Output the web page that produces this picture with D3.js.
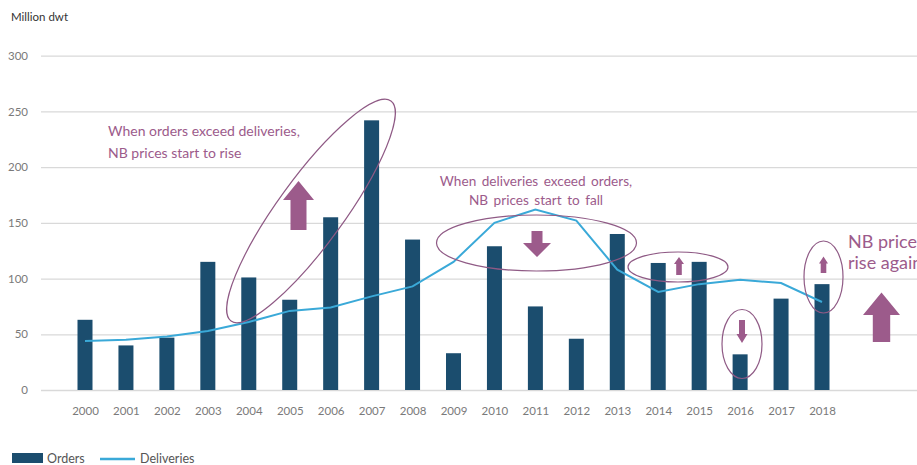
<!DOCTYPE html>
<html>
<head>
<meta charset="utf-8">
<script src="https://cdn.jsdelivr.net/npm/d3@7"></script>
<style>
  html, body { margin: 0; padding: 0; background: #fff; }
  svg { display: block; font-family: Lato, "Open Sans", sans-serif; }
</style>
</head>
<body>
<svg id="chart" width="917" height="465"></svg>
<script>
// Newbuilding orders vs deliveries, million dwt
const years = ["2000","2001","2002","2003","2004","2005","2006","2007","2008","2009",
               "2010","2011","2012","2013","2014","2015","2016","2017","2018"];
const orders = [63, 40, 47, 115, 101, 81, 155, 242, 135, 33, 129, 75, 46, 140, 114, 115, 32, 82, 95];
const deliveries = [44, 45, 48, 53, 61, 71, 74, 84, 93, 115, 150, 162, 152, 108, 88, 95, 99, 96, 79];
const yTicks = [0, 50, 100, 150, 200, 250, 300];

const BAR = "#1b4d6e", LINE = "#3aa9d8", PURPLE = "#9c5b8b", RING = "#8f5a85";

const svg = d3.select("#chart");

const x = d3.scalePoint().domain(years).range([85, 822]);
const y = d3.scaleLinear().domain([0, 300]).range([390, 55.7]);

// unit title
svg.append("text").attr("x", 11).attr("y", 21)
  .attr("font-size", 11.5).attr("fill", "#333").text("Million dwt");

// gridlines
const yAxis = d3.axisLeft(y).tickValues(yTicks).tickSize(-(917 - 41)).tickPadding(13);
const gy = svg.append("g").attr("transform", "translate(41,0)").call(yAxis);
gy.select(".domain").remove();
gy.selectAll(".tick line").attr("stroke", "#d9d9d9").attr("stroke-width", 1.3);
gy.selectAll(".tick text").attr("fill", "#7a7a7a").attr("font-size", 11.5)
  .attr("font-family", "Lato, sans-serif");

// x axis labels
const xAxis = d3.axisBottom(x).tickSize(0).tickPadding(17);
const gx = svg.append("g").attr("transform", "translate(0,390)").call(xAxis);
gx.select(".domain").remove();
gx.selectAll(".tick text").attr("fill", "#7a7a7a").attr("font-size", 11.5)
  .attr("font-family", "Lato, sans-serif");

// bars
const bw = 15;
svg.append("g").selectAll("rect").data(orders).join("rect")
  .attr("x", (d, i) => x(years[i]) - bw / 2)
  .attr("y", d => y(d))
  .attr("width", bw)
  .attr("height", d => y(0) - y(d))
  .attr("fill", BAR);

// deliveries line
const line = d3.line().x((d, i) => x(years[i])).y(d => y(d));
svg.append("path").datum(deliveries).attr("d", line)
  .attr("fill", "none").attr("stroke", LINE).attr("stroke-width", 2);

// annotation helpers
const ann = svg.append("g");
function ring(cx, cy, rx, ry, rot) {
  ann.append("ellipse").attr("cx", cx).attr("cy", cy).attr("rx", rx).attr("ry", ry)
    .attr("transform", `rotate(${rot},${cx},${cy})`)
    .attr("fill", "none").attr("stroke", RING).attr("stroke-width", 1.2);
}
// block arrow: cx centre, tip y, base y, head height, head half-width, stem half-width
function arrow(cx, tip, base, hh, hw, sw) {
  const dir = base > tip ? 1 : -1;
  const hb = tip + dir * hh;
  const p = [[cx, tip], [cx + hw, hb], [cx + sw, hb], [cx + sw, base],
             [cx - sw, base], [cx - sw, hb], [cx - hw, hb]];
  ann.append("path").attr("d", "M" + p.join("L") + "Z").attr("fill", PURPLE);
}
function label(lines, xx, yy, size, anchor, dy, ls) {
  const t = ann.append("text").attr("fill", PURPLE).attr("font-size", size)
    .attr("text-anchor", anchor).attr("word-spacing", ls || 0);
  lines.forEach((s, i) => t.append("tspan").attr("x", xx).attr("y", yy + i * dy).text(s));
}

// 2003-2008 boom
label(["When orders exceed deliveries,", "NB prices start to rise"], 108, 136, 14, "start", 22);
ring(311, 211, 136, 33, -54);
arrow(298.5, 181, 230, 19, 15.5, 8);

// 2010-2012 slowdown
label(["When deliveries exceed orders,", "NB prices start to fall"], 536, 186, 13.6, "middle", 19, 2);
ring(536.5, 243, 100, 28, 0);
arrow(537, 257, 231, 14, 14, 5.5);

// 2014-2015
ring(678, 267, 50, 15, 0);
arrow(679, 257, 275, 7, 5, 2.8);

// 2016
ring(742, 344, 20, 34.5, 0);
arrow(742, 343, 320, 9, 5.5, 3);

// 2018
ring(823.5, 277, 19.5, 36, 0);
arrow(823.5, 256.5, 273, 7, 4.5, 2.8);

// recovery
label(["NB prices", "rise again"], 848, 248, 18, "start", 21);
arrow(881.5, 292.5, 342, 22.5, 18.5, 8.7);

// legend
const lg = svg.append("g");
lg.append("rect").attr("x", 12).attr("y", 453).attr("width", 31).attr("height", 10).attr("fill", BAR);
lg.append("text").attr("x", 47).attr("y", 462.5).attr("font-size", 12.5).attr("fill", "#555").text("Orders");
lg.append("line").attr("x1", 100).attr("x2", 135).attr("y1", 459).attr("y2", 459)
  .attr("stroke", LINE).attr("stroke-width", 2.5);
lg.append("text").attr("x", 140).attr("y", 462.5).attr("font-size", 12.5).attr("fill", "#555").text("Deliveries");
</script>
</body>
</html>
